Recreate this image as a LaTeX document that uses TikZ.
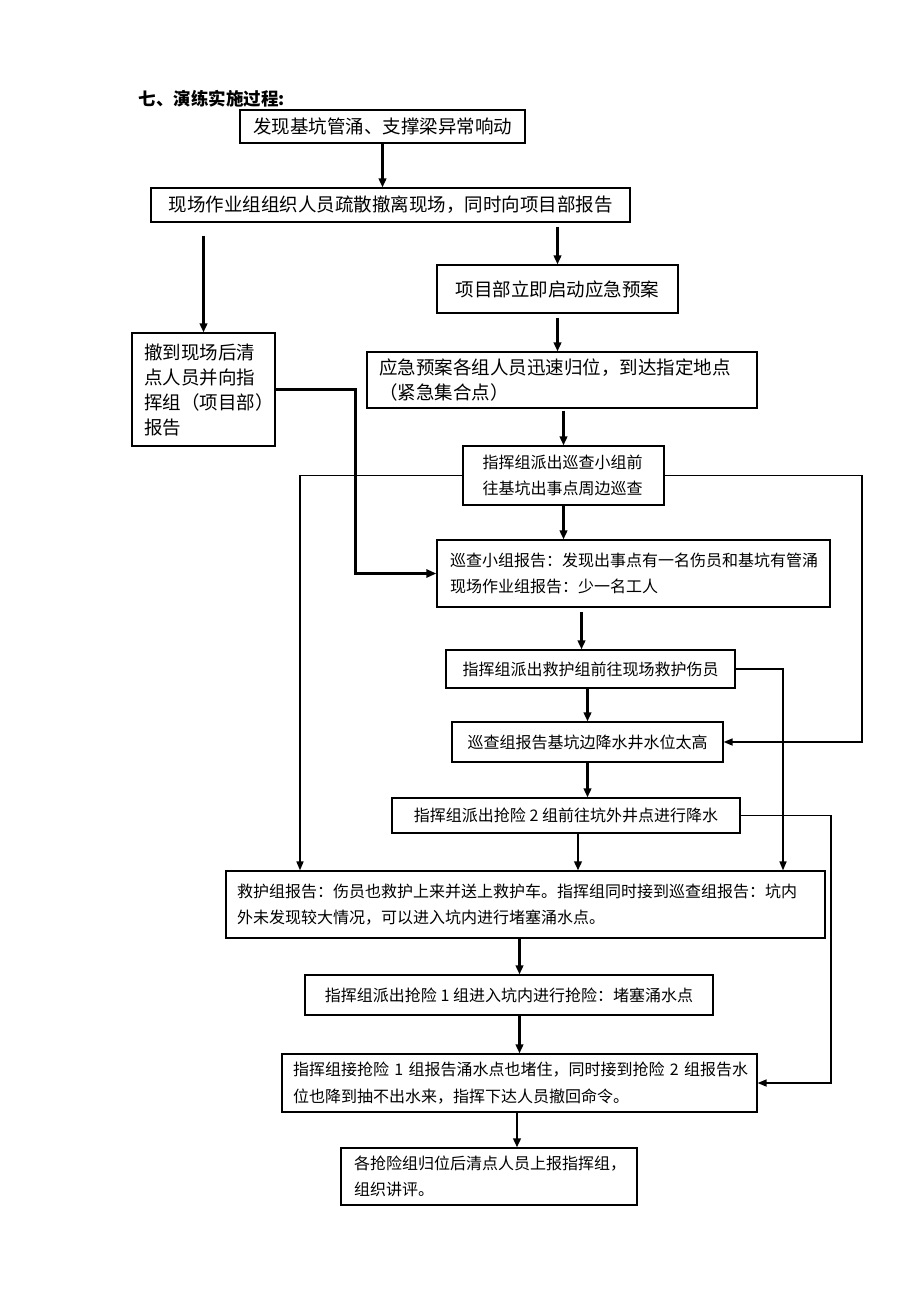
\documentclass[tikz,border=0pt]{standalone}
\usepackage{fontspec}
\setmainfont{Noto Sans CJK SC}
\usetikzlibrary{arrows.meta,calc}
\tikzset{
	box/.style={draw, line width=1.2pt, inner sep=0pt},
	flow/.style={line width=2.4pt, -{Triangle[length=9pt,width=7.5pt]}},
	side/.style={line width=1.6pt},
	big/.style={font=\fontsize{18.5}{25}\selectfont},
	small/.style={font=\fontsize{16}{26.5}\selectfont}
}

\begin{document}
\begin{tikzpicture}[x=1pt, y=-1pt]
				%%%%% START %%%%%
				\useasboundingbox (0,0) rectangle (920,1302);
				
				\node[anchor=west, font=\fontsize{17.5}{20}\selectfont\bfseries] (title) at (135,99) {七、演练实施过程:};
				
				% top part, large text
				\node[box, big, minimum width=285, minimum height=33] (alarm) at (382.5,126.5) {发现基坑管涌、支撑梁异常响动};
				\node[box, big, minimum width=479, minimum height=34] (evac) at (390.5,205) {现场作业组组织人员疏散撤离现场，同时向项目部报告};
				\node[box, big, text width=119, inner xsep=12, minimum height=113, align=left] (count) at (203.5,389.5) {撤到现场后清\\点人员并向指\\挥组（项目部）\\报告};
				\node[box, big, minimum width=241, minimum height=48] (plan) at (557.5,289) {项目部立即启动应急预案};
				\node[box, big, text width=366, inner xsep=12, minimum height=56, align=left] (gather) at (562,380) {应急预案各组人员迅速归位，到达指定地点\\（紧急集合点）};
				
				% lower part, small text
				\node[box, small, text width=162, inner xsep=19.5, minimum height=59, align=left] (patrol) at (563.5,475.5) {指挥组派出巡查小组前\\往基坑出事点周边巡查};
				\node[box, small, text width=367, inner xsep=13, minimum height=67, align=left] (prep) at (633.5,573.5) {巡查小组报告：发现出事点有一名伤员和基坑有管涌\\现场作业组报告：少一名工人};
				\node[box, small, minimum width=289, minimum height=38] (rescue) at (590.5,669) {指挥组派出救护组前往现场救护伤员};
				\node[box, small, minimum width=271, minimum height=40] (water) at (587.5,742) {巡查组报告基坑边降水井水位太高};
				\node[box, small, minimum width=348, minimum height=35] (team2) at (566,815.5) {指挥组派出抢险~2~组前往坑外井点进行降水};
				\node[box, small, text width=577, inner xsep=11, minimum height=67, align=left] (injured) at (525.5,904.5) {救护组报告：伤员也救护上来并送上救护车。指挥组同时接到巡查组报告：坑内\\外未发现较大情况，可以进入坑内进行堵塞涌水点。};
				\node[box, small, minimum width=408, minimum height=40] (team1) at (509,995) {指挥组派出抢险~1~组进入坑内进行抢险：堵塞涌水点};
				\node[box, small, text width=453, inner xsep=11, minimum height=58, align=left] (recall) at (519.5,1083) {指挥组接抢险~1~组报告涌水点也堵住，同时接到抢险~2~组报告水\\位也降到抽不出水来，指挥下达人员撤回命令。};
				\node[box, small, text width=270, inner xsep=13, minimum height=57, align=left] (review) at (489,1176.5) {各抢险组归位后清点人员上报指挥组，\\组织讲评。};
				
				% helper x positions for the side lines
				\coordinate (lft) at (300,0);
				\coordinate (mid) at (355,0);
				\coordinate (hr) at (783,0);
				\coordinate (kr) at (831,0);
				\coordinate (rgt) at (862,0);
				
				% main arrows
				\draw[flow] (alarm.south) -- (alarm.south |- evac.north);
				\draw[flow, shorten <=13] (evac.south -| count.north) -- (count.north);
				\draw[flow, shorten <=4] (evac.south -| plan.north) -- (plan.north);
				\draw[flow, shorten <=4] (plan.south) -- (plan.south |- gather.north);
				\draw[flow, shorten <=2] (gather.south -| patrol.north) -- (patrol.north);
				\draw[flow] (patrol.south) -- (patrol.south |- prep.north);
				\draw[flow, shorten <=4] ($(prep.south -| rescue.north)+(-9,0)$) -- ($(rescue.north)+(-9,0)$);
				\draw[flow] (rescue.south -| water.north) -- (water.north);
				\draw[flow] (water.south) -- (water.south |- team2.north);
				\draw[flow] ($(team2.south)+(12,0)$) -- ($(team2.south |- injured.north)+(12,0)$);
				\draw[flow] (injured.south -| recall.north) -- (team1.north -| recall.north);
				\draw[flow] (team1.south -| recall.north) -- (recall.north);
				\draw[flow] (recall.south -| 517,0) -- (review.north -| 517,0);
				
				% side lines
				\draw[side, -{Triangle[length=9pt,width=7pt]}] (patrol.west) -| (injured.north -| lft);
				\draw[side, -{Triangle[length=9pt,width=7pt]}] (patrol.east) -| (water.east -| rgt) -- (water.east);
				\draw[line width=3pt, -{Triangle[length=10pt,width=8pt]}] (count.east) -| (prep.west -| mid) -- (prep.west);
				\draw[side, -{Triangle[length=9pt,width=7pt]}] (rescue.east) -| (injured.north -| hr);
				\draw[side, -{Triangle[length=9pt,width=7pt]}] (team2.east) -| (recall.east -| kr) -- (recall.east);
				%%%%% END %%%%%
\end{tikzpicture}
\end{document}
